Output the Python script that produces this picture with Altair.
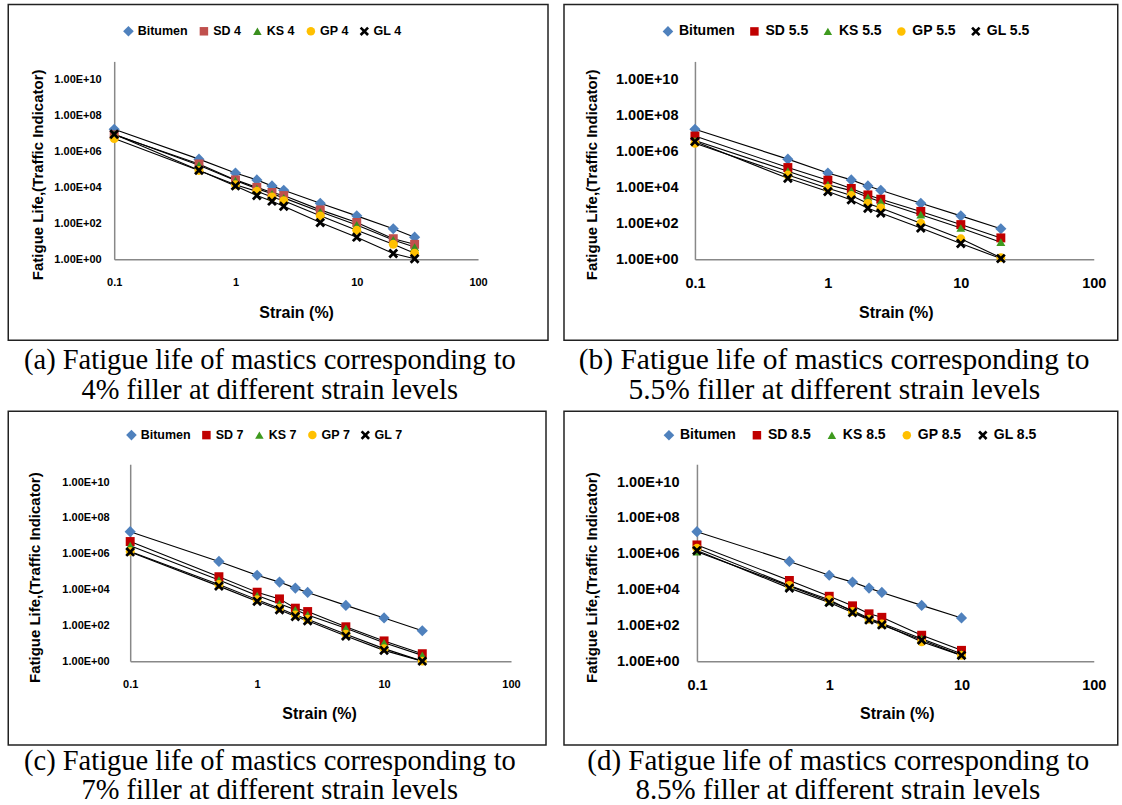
import altair as alt
import pandas as pd

# ---------------- data ----------------
strain_4 = [0.1, 0.5, 1, 1.5, 2, 2.5, 5, 10, 20, 30]
strain_55 = [0.1, 0.5, 1, 1.5, 2, 2.5, 5, 10, 20]
strain_7 = [0.1, 0.5, 1, 1.5, 2, 2.5, 5, 10, 20]
strain_85 = [0.1, 0.5, 1, 1.5, 2, 2.5, 5, 10]

names_4 = ["Bitumen", "SD 4", "KS 4", "GP 4", "GL 4"]
names_55 = ["Bitumen", "SD 5.5", "KS 5.5", "GP 5.5", "GL 5.5"]
names_7 = ["Bitumen", "SD 7", "KS 7", "GP 7", "GL 7"]
names_85 = ["Bitumen", "SD 8.5", "KS 8.5", "GP 8.5", "GL 8.5"]

# (a) 4 % filler
bitumen_4 = [1.7e7, 3.7e5, 6.3e4, 2.6e4, 1.2e4, 6.9e3, 1.3e3, 2.6e2, 50, 17]
sd_4 = [8.3e6, 2.0e5, 2.6e4, 1.0e4, 5.2e3, 3.5e3, 5.6e2, 112, 14, 6.8]
ks_4 = [8.9e6, 1.7e5, 2.4e4, 8.5e3, 4.4e3, 2.6e3, 4.4e2, 81, 12, 4.8]
gp_4 = [5.2e6, 8.7e4, 1.4e4, 6.0e3, 2.9e3, 1.8e3, 2.6e2, 41, 6.8, 2.2]
gl_4 = [8.9e6, 8.9e4, 1.2e4, 3.5e3, 1.7e3, 8.9e2, 1.1e2, 17, 2.1, 1.07]

# (b) 5.5 % filler
bitumen_55 = [1.7e7, 3.7e5, 6.3e4, 2.6e4, 1.2e4, 6.9e3, 1.3e3, 2.6e2, 50]
sd_55 = [7.1e6, 1.26e5, 2.5e4, 8.7e3, 3.8e3, 2.2e3, 4.6e2, 85, 15.5]
ks_55 = [4.0e6, 7.9e4, 1.4e4, 6.6e3, 2.8e3, 1.6e3, 3.0e2, 55, 8.9]
gp_55 = [2.8e6, 4.8e4, 8.9e3, 3.5e3, 1.26e3, 7.2e2, 100, 13.8, 1.23]
gl_55 = [3.5e6, 3.2e4, 5.8e3, 2.0e3, 6.9e2, 3.7e2, 55, 7.6, 1.1]

# (c) 7 % filler
bitumen_7 = [1.7e7, 3.7e5, 6.3e4, 2.6e4, 1.2e4, 6.9e3, 1.3e3, 2.6e2, 50]
sd_7 = [4.8e6, 5.2e4, 7.1e3, 3.0e3, 9.1e2, 5.9e2, 83, 13.5, 2.6]
ks_7 = [2.8e6, 3.4e4, 4.6e3, 1.6e3, 7.4e2, 3.8e2, 68, 10.5, 2.1]
gp_7 = [1.35e6, 1.9e4, 2.7e3, 9.1e2, 3.8e2, 2.2e2, 32, 5.0, 1.0]
gl_7 = [1.26e6, 1.55e4, 2.2e3, 7.4e2, 3.1e2, 1.8e2, 25, 4.0, 1.0]

# (d) 8.5 % filler
bitumen_85 = [1.7e7, 3.7e5, 6.3e4, 2.6e4, 1.2e4, 6.9e3, 1.3e3, 2.6e2]
sd_85 = [3.1e6, 3.2e4, 4.2e3, 1.23e3, 4.4e2, 2.8e2, 28, 4.0]
ks_85 = [1.3e6, 1.55e4, 2.2e3, 6.8e2, 2.5e2, 1.3e2, 18, 2.6]
gp_85 = [2.0e6, 1.7e4, 2.7e3, 5.9e2, 2.2e2, 1.2e2, 12, 2.1]
gl_85 = [1.5e6, 1.2e4, 1.9e3, 5.2e2, 2.0e2, 1.05e2, 15, 2.1]

x_ticks = [0.1, 1, 10, 100]
y_ticks = [1, 1e2, 1e4, 1e6, 1e8, 1e10]

caption_a = ["(a) Fatigue life of mastics corresponding to", "4% filler at different strain levels"]
caption_b = ["(b) Fatigue life of mastics corresponding to", "5.5% filler at different strain levels"]
caption_c = ["(c) Fatigue life of mastics corresponding to", "7% filler at different strain levels"]
caption_d = ["(d) Fatigue life of mastics corresponding to", "8.5% filler at different strain levels"]

colors_a = ["#4F81BD", "#C0504D", "#3A8F1E", "#FFC000", "#000000"]
colors_bcd = ["#4F81BD", "#C00000", "#3E9A1E", "#FFC000", "#000000"]

DIAMOND = "M0,-1.25L1.25,0L0,1.25L-1.25,0Z"
XSHAPE = ("M-1.1,-0.66L-0.66,-1.1L0,-0.44L0.66,-1.1L1.1,-0.66L0.44,0L1.1,0.66"
          "L0.66,1.1L0,0.44L-0.66,1.1L-1.1,0.66L-0.44,0Z")
shapes = [DIAMOND, "square", "triangle-up", "circle", XSHAPE]

SANS = "Liberation Sans"
SERIF = "Liberation Serif"
ONE = pd.DataFrame({"k": [0]})


def make_panel(strain, series, names, colors, g):
    rows = []
    for name, vals in zip(names, series):
        for s, v in zip(strain, vals):
            rows.append({"strain": s, "life": v, "series": name})
    df = pd.DataFrame(rows)

    x0 = g["xin"]
    xs = alt.Scale(type="log", domain=[0.1, 100], range=[x0, g["w"]])
    ys = alt.Scale(type="log", domain=[1, 1e11])
    x_enc = alt.X("strain:Q", scale=xs, axis=alt.Axis(
        values=x_ticks, format="~g", title="Strain (%)", grid=False, ticks=False,
        domainColor="#888888", domainWidth=1.5, labelFlush=False, labelOverlap=False,
        labelFont=SANS, labelFontSize=g["tick"], labelFontWeight="bold", labelColor="black",
        labelPadding=g["xpad"], titleFont=SANS, titleFontSize=16, titleFontWeight="bold",
        titleColor="black", titleX=g["xtitle"][0], titleY=g["xtitle"][1],
        titleAlign="center", titleBaseline="middle"))
    y_enc = alt.Y("life:Q", scale=ys, axis=alt.Axis(
        values=y_ticks, offset=-x0,
        labelExpr="'1.00E+' + (round(log(datum.value)/LN10) < 10 ? '0' : '') + round(log(datum.value)/LN10)",
        title="Fatigue Life,(Traffic  Indicator)", grid=False, ticks=False,
        domainColor="#888888", domainWidth=1.5, labelFlush=False, labelOverlap=False,
        labelFont=SANS, labelFontSize=g["tick"], labelFontWeight="bold", labelColor="black",
        labelPadding=g["lpad"], titleFont=SANS, titleFontSize=15, titleFontWeight="bold",
        titleColor="black", titleX=g["ytitle"][0], titleY=g["ytitle"][1],
        titleAngle=270, titleAlign="center", titleBaseline="middle"))

    leg = alt.Legend(orient="none", legendX=g["legend"][0], legendY=g["legend"][1],
                     direction="horizontal", columns=5, title=None, padding=0,
                     labelFont=SANS, labelFontSize=g["lfont"], labelFontWeight="bold",
                     labelColor="black", columnPadding=g["lcol"], labelOffset=g["loff"],
                     symbolSize=72)

    frame = alt.Chart(ONE).mark_rect(fill="white", fillOpacity=0, stroke="#222222",
                                     strokeWidth=1.5).encode(
        x=alt.value(g["box"][0]), x2=alt.value(g["box"][1]),
        y=alt.value(g["box"][2]), y2=alt.value(g["box"][3]))

    lines = alt.Chart(df).mark_line(color="black", strokeWidth=1.1).encode(
        x=x_enc, y=y_enc, detail="series:N", order="strain:Q")

    points = alt.Chart(df).mark_point(filled=True, opacity=1, size=80, strokeWidth=0).encode(
        x=x_enc, y=y_enc,
        color=alt.Color("series:N", scale=alt.Scale(domain=names, range=colors), legend=leg),
        shape=alt.Shape("series:N", scale=alt.Scale(domain=names, range=shapes), legend=leg),
    )

    return alt.layer(frame, lines, points).properties(width=g["w"], height=g["h"])


def cap_text(text, x, y, align, size):
    return alt.Chart(ONE).mark_text(font=SERIF, fontSize=size, align=align, baseline="top",
                                    color="black").encode(
        x=alt.value(x), y=alt.value(y), text=alt.value(text))


def caption_row(left, right, ys_left, ys_right, size_left, size_right, height):
    # positions are relative to the left column's plot origin (page x = 114)
    return alt.layer(
        cap_text(left[0], -90.2, ys_left[0], "left", size_left),
        cap_text(left[1], -32.8, ys_left[1], "left", size_left),
        cap_text(right[0], 975.6, ys_right[0], "right", size_right),
        cap_text(right[1], 926.5, ys_right[1], "right", size_right),
    ).properties(width=1004, height=height)


ga = dict(w=364, xin=0, h=198, box=(-106, 434, -57, 279), legend=(8, -36.5),
          ytitle=(-77, 113), xtitle=(182, 53), tick=11, lpad=13, xpad=17.5,
          lfont=12.5, lcol=9.5, loff=3)
gb = dict(w=399, xin=0, h=198, box=(-131, 423, -57, 279), legend=(-34, -37),
          ytitle=(-103, 113), xtitle=(201, 53), tick=14.5, lpad=17, xpad=17.5,
          lfont=14, lcol=12.5, loff=4)
gc = dict(w=397, xin=16, h=197, box=(-106, 432, -53, 281), legend=(11, -35.5),
          ytitle=(-96, 113), xtitle=(205, 52), tick=11, lpad=21, xpad=17,
          lfont=12.5, lcol=9, loff=3)
gd = dict(w=397, xin=0, h=197, box=(-133, 421, -53, 281), legend=(-35, -36),
          ytitle=(-105, 113), xtitle=(200, 52), tick=14.5, lpad=18, xpad=17,
          lfont=14, lcol=14, loff=4)

pa = make_panel(strain_4, [bitumen_4, sd_4, ks_4, gp_4, gl_4], names_4, colors_a, ga)
pb = make_panel(strain_55, [bitumen_55, sd_55, ks_55, gp_55, gl_55], names_55, colors_bcd, gb)
pc = make_panel(strain_7, [bitumen_7, sd_7, ks_7, gp_7, gl_7], names_7, colors_bcd, gc)
pd_ = make_panel(strain_85, [bitumen_85, sd_85, ks_85, gp_85, gl_85], names_85, colors_bcd, gd)


def indep(c):
    return c.resolve_scale(x="independent", y="independent", color="independent",
                           shape="independent").resolve_axis(
        x="independent", y="independent").resolve_legend(color="independent", shape="independent")


row1 = indep(alt.hconcat(pa, pb, spacing=14))
row2 = indep(alt.hconcat(pc, pd_, spacing=16))
cap1 = caption_row(caption_a, caption_b, (5, 35), (5, 35), 28.5, 29.5, 69)
cap2 = caption_row(caption_c, caption_d, (1, 29.5), (1, 30), 28.5, 29, 57.5)

chart = indep(alt.vconcat(row1, cap1, row2, cap2, spacing=0)).properties(
    padding={"left": 7.25, "top": 3.25, "right": 3.25, "bottom": 0},
    background="white",
).configure_view(strokeWidth=0)

chart.save("out.html", embed_options={"renderer": "svg", "actions": False})
